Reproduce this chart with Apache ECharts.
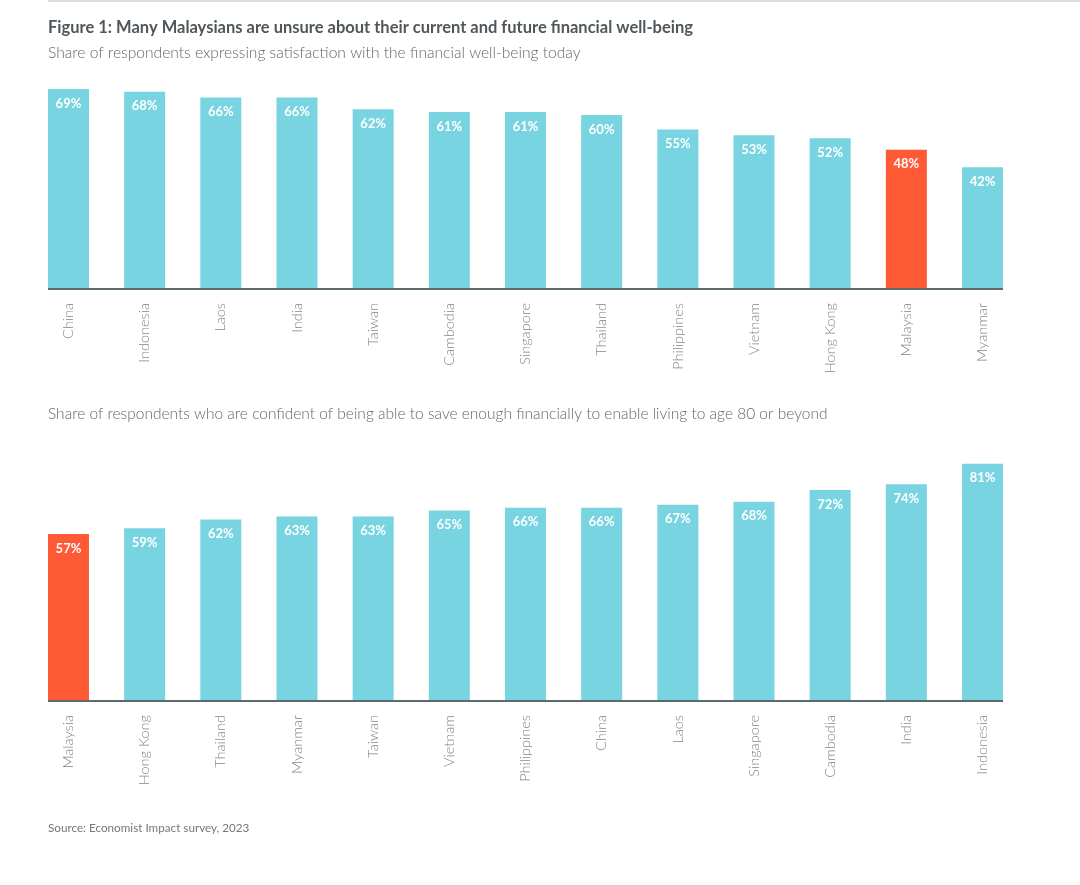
<!DOCTYPE html>
<html>
<head>
<meta charset="utf-8">
<script src="https://cdn.jsdelivr.net/npm/echarts@6/dist/echarts.min.js"></script>
<style>
  html, body { margin: 0; padding: 0; background: #fff; }
  #myChart { width: 1080px; height: 885px; }
</style>
</head>
<body>
<div id="myChart"></div>
<script>
// data
var topCountries = ['China', 'Indonesia', 'Laos', 'India', 'Taiwan', 'Cambodia', 'Singapore', 'Thailand', 'Philippines', 'Vietnam', 'Hong Kong', 'Malaysia', 'Myanmar'];
var topValues = [69, 68, 66, 66, 62, 61, 61, 60, 55, 53, 52, 48, 42];
var bottomCountries = ['Malaysia', 'Hong Kong', 'Thailand', 'Myanmar', 'Taiwan', 'Vietnam', 'Philippines', 'China', 'Laos', 'Singapore', 'Cambodia', 'India', 'Indonesia'];
var bottomValues = [57, 59, 62, 63, 63, 65, 66, 66, 67, 68, 72, 74, 81];
var highlight = 'Malaysia';

var CYAN = '#78d4e0';
var RED = '#ff5a36';
var FONT = 'Lato, "Open Sans", sans-serif';
var BAR_W = 41;

function toItems(cats, vals) {
  return vals.map(function (v, i) {
    return { value: v, itemStyle: { color: cats[i] === highlight ? RED : CYAN } };
  });
}

function xAxisFor(idx, cats) {
  return {
    type: 'category', gridIndex: idx, data: cats,
    axisLine: { show: false }, axisTick: { show: false },
    axisLabel: { rotate: 90, margin: 14, color: '#858585', fontFamily: FONT, fontSize: 14.5, fontWeight: 300 }
  };
}

function yAxisFor(idx, max) {
  return { type: 'value', gridIndex: idx, min: 0, max: max, show: false, splitLine: { show: false } };
}

function seriesFor(idx, cats, vals) {
  return {
    type: 'bar', xAxisIndex: idx, yAxisIndex: idx, barWidth: BAR_W,
    data: toItems(cats, vals),
    label: {
      show: true, position: 'insideTop', distance: 8,
      color: '#fff', fontFamily: FONT, fontWeight: 'bold', fontSize: 13,
      formatter: '{c}%'
    }
  };
}

var myChart = echarts.init(document.getElementById('myChart'));

var option = {
  animation: false,
  backgroundColor: '#fff',
  title: [
    { text: 'Figure 1: Many Malaysians are unsure about their current and future financial well-being', left: 48, top: 19, padding: 0,
      textStyle: { fontFamily: FONT, fontSize: 16.5, fontWeight: 'bold', color: '#50575b' } },
    { text: 'Share of respondents expressing satisfaction with the financial well-being today', left: 48, top: 45, padding: 0,
      textStyle: { fontFamily: FONT, fontSize: 15.6, fontWeight: 300, color: '#666' } },
    { text: 'Share of respondents who are confident of being able to save enough financially to enable living to age 80 or beyond', left: 48, top: 406, padding: 0,
      textStyle: { fontFamily: FONT, fontSize: 15.5, fontWeight: 300, color: '#666' } },
    { text: 'Source: Economist Impact survey, 2023', left: 48, top: 822, padding: 0,
      textStyle: { fontFamily: FONT, fontSize: 11.7, fontWeight: 'normal', color: '#777' } }
  ],
  grid: [
    { left: 30.4, width: 990.2, top: 86, height: 203 },
    { left: 30.4, width: 990.2, top: 452, height: 249 }
  ],
  xAxis: [xAxisFor(0, topCountries), xAxisFor(1, bottomCountries)],
  yAxis: [yAxisFor(0, 70), yAxisFor(1, 85)],
  series: [seriesFor(0, topCountries, topValues), seriesFor(1, bottomCountries, bottomValues)]
};
myChart.setOption(option);

// baselines from first bar's left edge to last bar's right edge
function baseline(idx, cats) {
  var first = myChart.convertToPixel({ xAxisIndex: idx, yAxisIndex: idx }, [cats[0], 0]);
  var last = myChart.convertToPixel({ xAxisIndex: idx, yAxisIndex: idx }, [cats[cats.length - 1], 0]);
  return {
    type: 'line', z: 10,
    shape: { x1: first[0] - BAR_W / 2, y1: first[1], x2: last[0] + BAR_W / 2, y2: last[1] },
    style: { stroke: '#5d6a70', lineWidth: 2 }
  };
}

myChart.setOption({
  graphic: [
    { type: 'rect', shape: { x: 48, y: 0, width: 1032, height: 2 }, style: { fill: '#dcdcdc' } },
    baseline(0, topCountries),
    baseline(1, bottomCountries)
  ]
});
</script>
</body>
</html>
